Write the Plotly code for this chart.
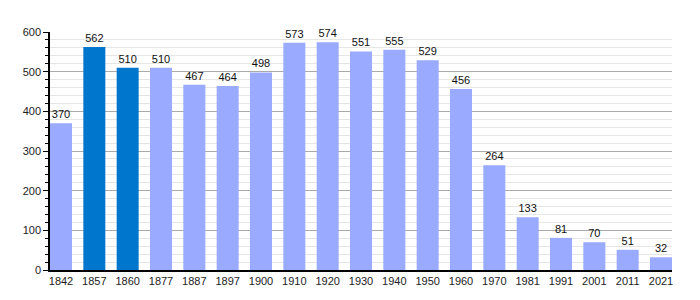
import plotly.graph_objects as go

years = ["1842", "1857", "1860", "1877", "1887", "1897", "1900", "1910", "1920", "1930",
         "1940", "1950", "1960", "1970", "1981", "1991", "2001", "2011", "2021"]
population = [370, 562, 510, 510, 467, 464, 498, 573, 574, 551,
              555, 529, 456, 264, 133, 81, 70, 51, 32]
highlight = ["1857", "1860"]

LIGHT = "#99aaff"
DARK = "#0077cc"
colors = [DARK if y in highlight else LIGHT for y in years]

fig = go.Figure(go.Bar(
    x=years, y=population,
    marker=dict(color=colors, line=dict(width=0)),
    width=0.66,
    text=[str(v) for v in population],
    textposition="outside",
    textfont=dict(family="Liberation Sans, Arial, sans-serif", size=11, color="#111"),
    cliponaxis=False,
))

fig.update_layout(
    width=700, height=300,
    margin=dict(l=50, r=28, t=32, b=30),
    paper_bgcolor="white", plot_bgcolor="white",
    showlegend=False,
    bargap=0.34,
    font=dict(family="Liberation Sans, Arial, sans-serif", size=11, color="#222"),
)
fig.update_xaxes(
    type="category", range=[-0.33, len(years) - 0.67],
    showline=True, linecolor="black", linewidth=1.5,
    ticks="", showgrid=False, tickfont=dict(size=11, color="#222"),
)
fig.update_yaxes(
    range=[0, 600], tickvals=[0, 100, 200, 300, 400, 500, 600],
    showline=True, linecolor="black", linewidth=1.5,
    ticks="outside", ticklen=5, tickcolor="black",
    showgrid=True, gridcolor="#aaaaaa", gridwidth=1,
    zeroline=False,
    minor=dict(dtick=20, tick0=0, ticks="outside", ticklen=3, tickcolor="black",
               showgrid=True, gridcolor="#e6e6e6", gridwidth=1),
    tickfont=dict(size=11, color="#222"),
)
fig.update_traces(textangle=0, constraintext="none")

fig.write_html("out.html")
